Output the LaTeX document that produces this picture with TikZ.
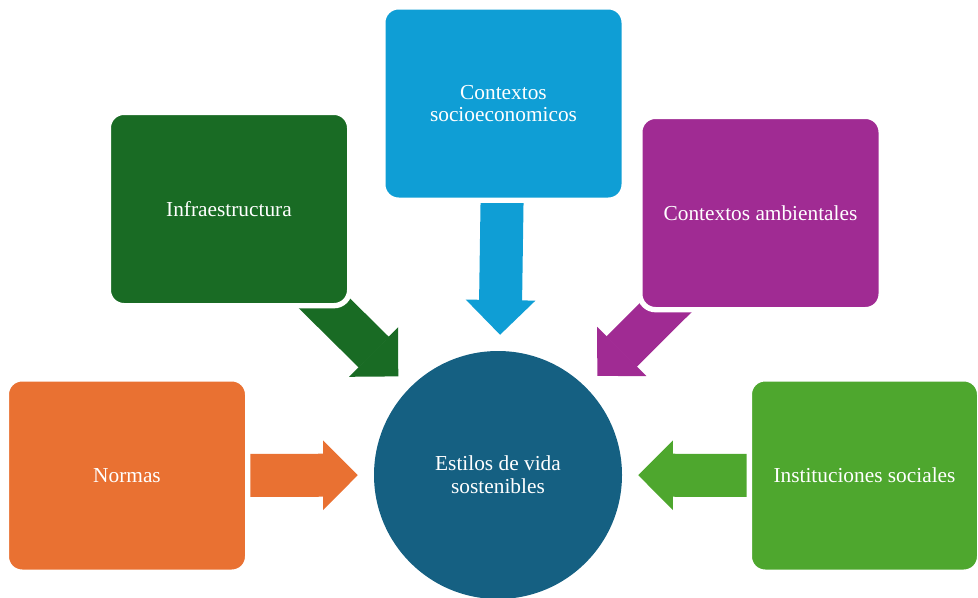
\documentclass[tikz,border=0pt]{standalone}
\usepackage{fontspec}
\setmainfont{Liberation Serif}
\usetikzlibrary{arrows.meta,backgrounds}
\definecolor{azul}{HTML}{156082}
\definecolor{naranja}{HTML}{E97132}
\definecolor{verdeosc}{HTML}{196B24}
\definecolor{celeste}{HTML}{0F9ED5}
\definecolor{morado}{HTML}{A02B93}
\definecolor{verde}{HTML}{4EA72E}
\tikzset{
	caja/.style={rectangle, rounded corners=11.75pt, draw=white, line width=4pt,
		minimum width=181pt, minimum height=145pt, inner sep=0pt,
		text=white, align=center, font=\fontsize{16}{17}\selectfont},
	flecha/.style={line width=32.25pt, shorten >=12pt,
		-{Triangle[length=26pt,width=52pt,line width=1.5pt]}},
}
\begin{document}
\begin{tikzpicture}[x=0.75pt,y=-0.75pt]
	\useasboundingbox (0,0) rectangle (978,597);
	\node[caja, fill=naranja] (normas) at (127,475.5) {Normas};
	\node[caja, fill=verdeosc] (infra) at (229,209) {Infraestructura};
	\node[caja, fill=celeste] (socio) at (503.5,103.5) {Contextos\\socioeconomicos};
	\node[caja, fill=morado] (ambi) at (760.5,213) {Contextos ambientales};
	\node[caja, fill=verde, minimum width=172.75pt] (inst) at (864.5,475.5) {Instituciones sociales};
	\node[circle, fill=azul, minimum size=186pt, inner sep=0pt, text=white, align=center,
		font=\fontsize{16}{17}\selectfont] (estilos) at (498,475) {Estilos de vida\\sostenibles};
	% flechas por debajo de las cajas
	\begin{pgfonlayer}{background}
		\draw[flecha, naranja] (normas.center) -- (estilos);
		\draw[flecha, verdeosc] (infra.center) -- (estilos);
		\draw[flecha, celeste] (socio.center) -- (estilos);
		\draw[flecha, morado] (ambi.center) -- (estilos);
		\draw[flecha, verde] (inst.center) -- (estilos);
	\end{pgfonlayer}
\end{tikzpicture}
\end{document}
